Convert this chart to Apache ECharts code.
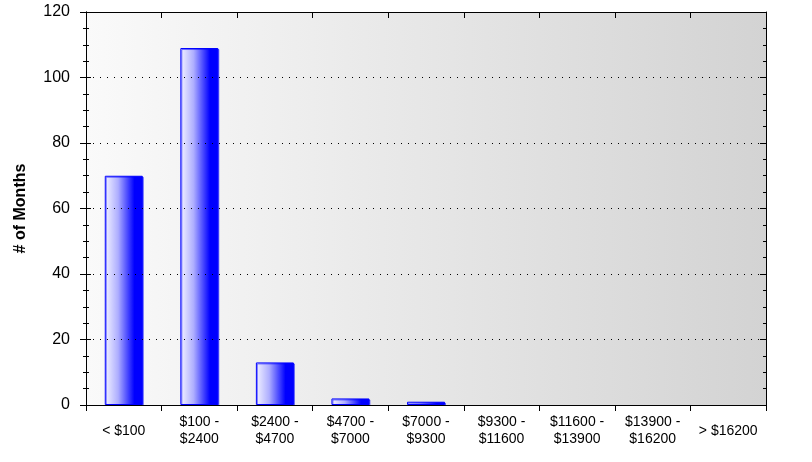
<!DOCTYPE html>
<html><head><meta charset="utf-8">
<script src="https://cdn.jsdelivr.net/npm/echarts@6/dist/echarts.min.js"></script>
<style>html,body{margin:0;padding:0;background:#fff}#c{width:812px;height:462px}</style>
</head><body><div id="c"></div>
<script>
var categories = ['< $100', '$100 -\n$2400', '$2400 -\n$4700', '$4700 -\n$7000', '$7000 -\n$9300', '$9300 -\n$11600', '$11600 -\n$13900', '$13900 -\n$16200', '> $16200'];
var months = [70, 109, 13, 2, 1, 0, 0, 0, 0];
var yTicks = { min: 0, max: 120, interval: 20 };
var yName = '# of Months';

var chart = echarts.init(document.getElementById('c'), null, { renderer: 'canvas' });
var font = 'Arial, "Liberation Sans", sans-serif';
var black = '#000';
var hidden = { show: false };
chart.setOption({
  animation: false,
  grid: {
    left: 86, right: 46, top: 12, bottom: 57,
    show: true, borderWidth: 0,
    backgroundColor: new echarts.graphic.LinearGradient(0, 0, 1, 0, [
      { offset: 0, color: '#fafafa' }, { offset: 1, color: '#d3d3d3' }
    ])
  },
  xAxis: [{
    type: 'category', data: categories, position: 'bottom', z: 5,
    axisLine: { onZero: false, lineStyle: { color: black, width: 1 } },
    axisTick: { show: true, length: 6, alignWithLabel: false, lineStyle: { color: black } },
    axisLabel: { color: '#000', fontFamily: font, fontSize: 14, lineHeight: 17, margin: 26, verticalAlign: 'middle', interval: 0 },
    splitLine: hidden
  }, {
    type: 'category', data: categories, position: 'top', z: 5,
    axisLine: { onZero: false, lineStyle: { color: black, width: 1 } },
    axisTick: { show: true, inside: true, length: 6, lineStyle: { color: black } },
    axisLabel: hidden, splitLine: hidden
  }],
  yAxis: [{
    type: 'value', position: 'left', min: yTicks.min, max: yTicks.max, interval: yTicks.interval, z: 5,
    name: yName, nameLocation: 'middle', nameGap: 57,
    nameTextStyle: { color: '#000', fontFamily: font, fontSize: 16, fontWeight: 'bold' },
    axisLine: { show: true, onZero: false, lineStyle: { color: black } },
    axisTick: { show: true, length: 6, lineStyle: { color: black } },
    minorTick: { show: true, splitNumber: 4, length: 3, lineStyle: { color: black } },
    axisLabel: { color: '#000', fontFamily: font, fontSize: 16, margin: 16 },
    splitLine: { show: true, lineStyle: { color: black, type: [1, 6], width: 1 } }
  }, {
    type: 'value', position: 'left', min: yTicks.min, max: yTicks.max, interval: yTicks.interval, z: 5,
    axisLine: { show: true, onZero: false, lineStyle: { color: black } },
    axisTick: { show: true, inside: true, length: 5, lineStyle: { color: black } },
    minorTick: { show: true, splitNumber: 4, length: 3, lineStyle: { color: black } },
    axisLabel: hidden, splitLine: hidden
  }, {
    type: 'value', position: 'right', min: yTicks.min, max: yTicks.max, interval: yTicks.interval, z: 5,
    axisLine: { show: true, onZero: false, lineStyle: { color: black } },
    axisTick: { show: true, inside: true, length: 6, lineStyle: { color: black } },
    minorTick: { show: true, splitNumber: 4, length: 3, lineStyle: { color: black } },
    axisLabel: hidden, splitLine: hidden
  }],
  series: [{
    type: 'bar', xAxisIndex: 0, yAxisIndex: 0, barWidth: 38,
    data: months.map(function (v) { return v === 0 ? '-' : v; }),
    itemStyle: {
      color: new echarts.graphic.LinearGradient(0, 0, 1, 0, [
        { offset: 0, color: '#f4f4ff' }, { offset: 0.35, color: '#aeaeff' }, { offset: 0.78, color: '#0000ff' }, { offset: 1, color: '#0000ff' }
      ]),
      borderColor: '#0000ff', borderWidth: 1,
      shadowColor: 'rgba(0,0,255,0.5)', shadowOffsetX: 1, shadowOffsetY: 1, shadowBlur: 0
    }
  }]
});
</script></body></html>
